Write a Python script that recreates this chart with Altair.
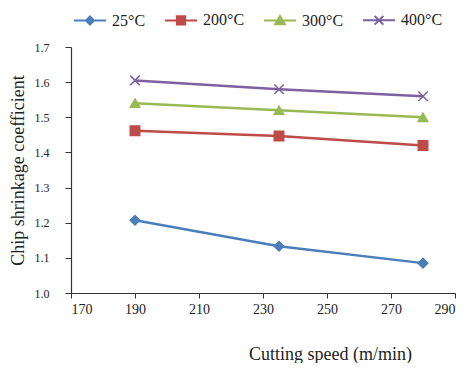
import altair as alt
import pandas as pd

speeds = [190, 235, 280]
series = ["25°C", "200°C", "300°C", "400°C"]
v25 = [1.207, 1.133, 1.085]
v200 = [1.462, 1.447, 1.420]
v300 = [1.540, 1.520, 1.500]
v400 = [1.605, 1.580, 1.560]
colors = ["#4A7EBB", "#BE4B48", "#98B954", "#7D60A0"]

rows = []
for name, vals in zip(series, [v25, v200, v300, v400]):
    for s, v in zip(speeds, vals):
        rows.append({"speed": s, "value": v, "series": name})
df = pd.DataFrame(rows)

FONT = "Liberation Serif"

col_scale = alt.Scale(domain=series, range=colors)
plot_shapes = ["diamond", "square", "triangle-up", "M-1,-1L1,1M-1,1L1,-1"]
legend_shapes = [
    "M-1,0L1,0M0,-0.25L0.25,0L0,0.25L-0.25,0Z",
    "M-1,0L1,0M-0.26,-0.26L0.26,-0.26L0.26,0.26L-0.26,0.26Z",
    "M-1,0L1,0M0,-0.28L0.3,0.24L-0.3,0.24Z",
    "M-1,0L1,0M-0.27,-0.27L0.27,0.27M-0.27,0.27L0.27,-0.27",
]

x = alt.X("speed:Q", title="Cutting speed (m/min)",
          scale=alt.Scale(domain=[170, 290], nice=False),
          axis=alt.Axis(values=[170, 190, 210, 230, 250, 270, 290], grid=False,
                        tickSize=5, labelPadding=4, labelFontSize=14, labelFont=FONT,
                        titleX=259, titleY=52, titleBaseline="top",
                        titleFontSize=18, titleFont=FONT))
y = alt.Y("value:Q", title="Chip shrinkage coefficient",
          scale=alt.Scale(domain=[1.0, 1.7], nice=False),
          axis=alt.Axis(values=[1.0, 1.1, 1.2, 1.3, 1.4, 1.5, 1.6, 1.7], format=".1f",
                        grid=False, tickSize=6, labelPadding=16, labelFontSize=12,
                        labelFont=FONT, titlePadding=7, titleFontSize=18, titleFont=FONT))

lines = alt.Chart(df).mark_line(strokeWidth=2.5).encode(
    x=x, y=y,
    stroke=alt.Stroke("series:N", scale=col_scale, legend=None),
)

point_layers = []
for name, shp in zip(series, plot_shapes):
    point_layers.append(
        alt.Chart(df).transform_filter(alt.datum.series == name)
        .mark_point(filled=True, size=90, strokeWidth=1.5, opacity=1, shape=shp)
        .encode(
            x=x, y=y,
            fill=alt.Fill("series:N", scale=col_scale, legend=None),
            stroke=alt.Stroke("series:N", scale=col_scale, legend=None),
        )
    )

leg = alt.Legend(orient="none", direction="horizontal", legendX=2, legendY=-44,
                 title=None, symbolSize=1024, symbolStrokeWidth=2, labelOffset=5,
                 columnPadding=15, labelFontSize=16, labelFont=FONT, labelColor="#222")

legend_layer = alt.Chart(df).mark_point(filled=True, size=0, opacity=1).encode(
    x=x, y=y,
    fill=alt.Fill("series:N", scale=col_scale, legend=leg),
    stroke=alt.Stroke("series:N", scale=col_scale, legend=leg),
    shape=alt.Shape("series:N", scale=alt.Scale(domain=series, range=legend_shapes), legend=leg),
)

chart = alt.layer(legend_layer, lines, *point_layers).properties(
    width=384, height=246,
    autosize=alt.AutoSizeParams(type="none"),
    padding={"left": 63, "top": 39, "right": 7, "bottom": 70},
    background="white",
).configure_view(stroke=None).configure_axis(
    labelFont=FONT, titleFont=FONT, titleFontWeight="normal",
    labelColor="#222", titleColor="#222", domainColor="#333", tickColor="#333",
    domainWidth=1.2,
).configure_legend(labelFont=FONT)

chart.save("out.html", embed_options={"renderer": "svg", "actions": False})
